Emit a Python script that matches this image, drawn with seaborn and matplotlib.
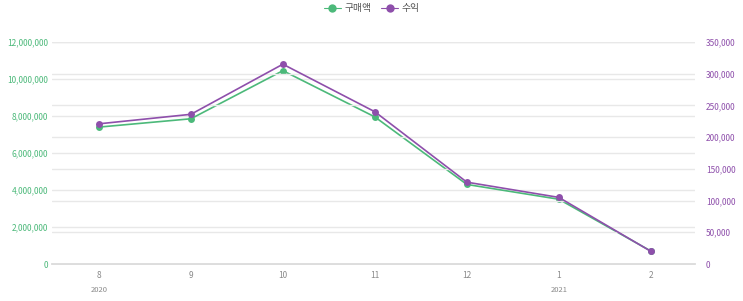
import matplotlib
matplotlib.use("Agg")
import matplotlib.pyplot as plt
import seaborn as sns
import pandas as pd
from matplotlib.ticker import FuncFormatter
from matplotlib.lines import Line2D
import matplotlib.transforms as mtransforms

months = ["8", "9", "10", "11", "12", "1", "2"]
years = {0: "2020", 5: "2021"}
purchase = [7400000, 7850000, 10450000, 7950000, 4300000, 3500000, 700000]
profit = [221000, 236000, 315000, 240000, 129000, 105000, 20000]

green = "#4cb97a"
purple = "#8e4fab"
gray_text = "#8a8a8a"
grid_c = "#e8e8e8"

sns.set_theme(style="white")
plt.rcParams['font.family'] = ['Noto Sans CJK KR', 'DejaVu Sans']

df = pd.DataFrame({"pos": range(len(months)), "purchase": purchase, "profit": profit})

fig = plt.figure(figsize=(7.43, 3.01), dpi=100)
ax = fig.add_axes([52/743, 37/301, (695-52)/743, (264-42)/301])
ax2 = ax.twinx()

sns.lineplot(data=df, x="pos", y="purchase", ax=ax, color=green, marker="o",
             markersize=5, markeredgewidth=0, linewidth=1.2, zorder=3)
sns.lineplot(data=df, x="pos", y="profit", ax=ax2, color=purple, marker="o",
             markersize=5, markeredgewidth=0, linewidth=1.2, zorder=3)

ax.set_xlim(-0.51, 6.48)
ax.set_ylim(0, 12000000)
ax2.set_ylim(0, 350000)
ax.set_yticks(range(0, 12000001, 2000000))
ax2.set_yticks(range(0, 350001, 50000))
ax.yaxis.set_major_formatter(FuncFormatter(lambda v, p: f"{int(v):,}"))
ax2.yaxis.set_major_formatter(FuncFormatter(lambda v, p: f"{int(v):,}"))
ax.set_xticks(range(len(months)))
ax.set_xticklabels(months)

for a in (ax, ax2):
    a.grid(axis="y", color=grid_c, linewidth=1)
    a.set_axisbelow(True)
    for s in ["top", "left", "right", "bottom"]:
        a.spines[s].set_visible(False)
    a.set_xlabel("")
    a.set_ylabel("")
    a.tick_params(length=0)
ax.spines["bottom"].set_visible(True)
ax.spines["bottom"].set_color("#d8d8d8")

ax.tick_params(axis="y", labelcolor=green, labelsize=6, pad=3)
ax2.tick_params(axis="y", labelcolor=purple, labelsize=6, pad=8)
ax.tick_params(axis="x", labelcolor=gray_text, labelsize=6, pad=5)
ax2.set_zorder(ax.get_zorder() + 1)

trans = mtransforms.blended_transform_factory(ax.transData, fig.transFigure)
for p, y in years.items():
    ax.text(p, 1 - 290/301, y, transform=trans, ha="center", va="center",
            fontsize=5.5, color=gray_text)

handles = [Line2D([0], [0], color=green, marker="o", markersize=6, markeredgewidth=0, linewidth=0.8),
           Line2D([0], [0], color=purple, marker="o", markersize=6, markeredgewidth=0, linewidth=0.8)]
fig.legend(handles, ["구매액", "수익"], loc="center", bbox_to_anchor=(0.5, 1 - 8/301),
           ncol=2, frameon=False, fontsize=7, labelcolor="#555555",
           handlelength=1.8, handletextpad=0.3, columnspacing=1.0)

fig.savefig("out.png", dpi=100)
